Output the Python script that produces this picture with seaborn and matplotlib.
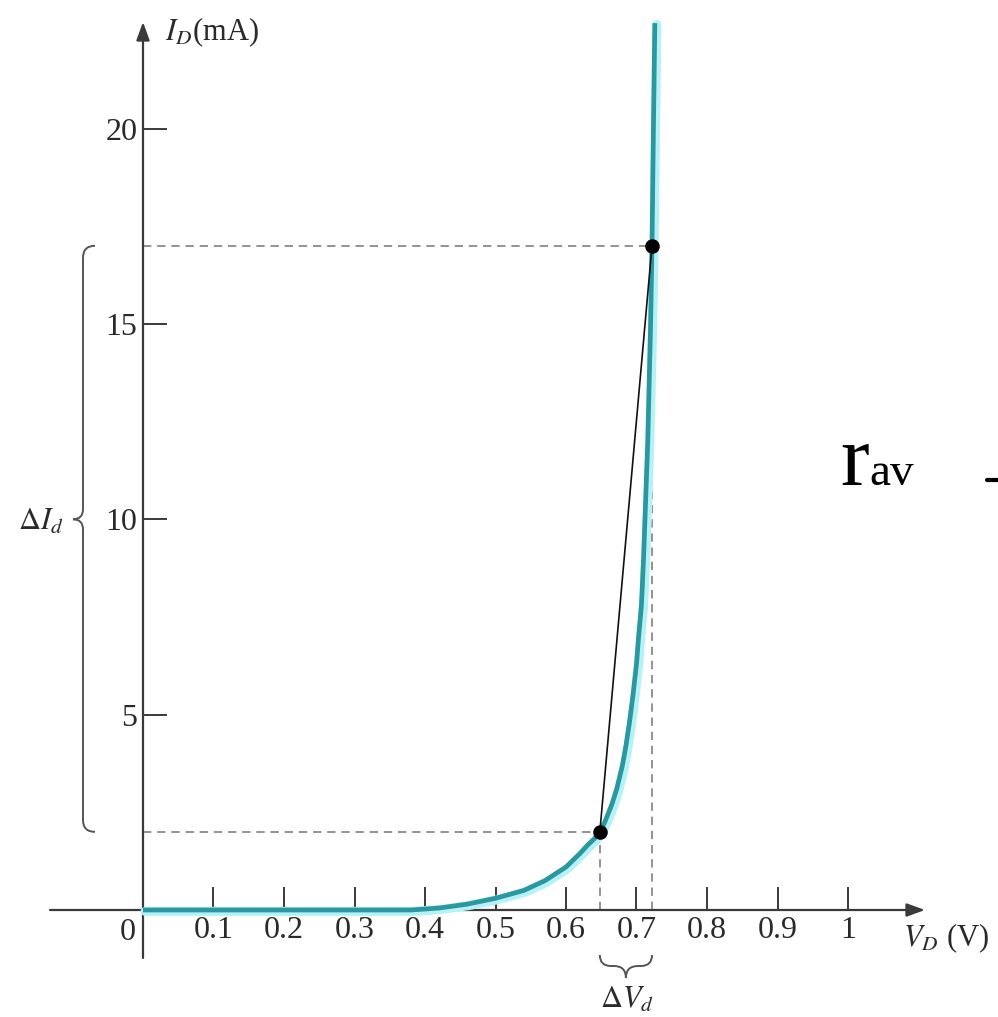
import numpy as np
import matplotlib
matplotlib.use("Agg")
import matplotlib.pyplot as plt
from matplotlib.path import Path
from matplotlib.patches import PathPatch
from matplotlib.lines import Line2D
import matplotlib.transforms as mtransforms
import seaborn as sns

# diode curve (V, mA)
vd = [0.0, 0.1, 0.2, 0.3, 0.38, 0.42, 0.46, 0.5, 0.54, 0.57, 0.6, 0.62, 0.63, 0.64,
      0.648, 0.655, 0.665, 0.672, 0.68, 0.685, 0.69, 0.695, 0.70, 0.703, 0.707,
      0.71, 0.713, 0.716, 0.718, 0.72, 0.722, 0.724, 0.726]
id_ma = [0.0, 0.0, 0.0, 0.0, 0.0, 0.05, 0.15, 0.3, 0.5, 0.75, 1.1, 1.45, 1.65, 1.82,
         2.0, 2.25, 2.7, 3.1, 3.7, 4.2, 4.8, 5.5, 6.3, 7.0, 7.8,
         9.0, 10.5, 12.0, 13.5, 15.0, 17.0, 20.0, 22.7]
# the two operating points
q_v = [0.648, 0.722]
q_i = [2.0, 17.0]
xticks = [0.1, 0.2, 0.3, 0.4, 0.5, 0.6, 0.7, 0.8, 0.9, 1.0]
xticklabels = ["0.1", "0.2", "0.3", "0.4", "0.5", "0.6", "0.7", "0.8", "0.9", "1"]
yticks = [5, 10, 15, 20]
yticklabels = ["5", "10", "15", "20"]

sns.set_theme(style="white")
plt.rcParams["font.family"] = ["Liberation Serif", "DejaVu Serif"]
plt.rcParams["mathtext.fontset"] = "stix"

W, H = 998, 1017
# pixel layout of the reference: origin and scale
X0, XS = 143, 705.0
Y0, YS = 910, 39.07


def px(x, y):
    return (x - X0) / XS, (Y0 - y) / YS


sx = 1 / XS
sy = 1 / YS

axis_col = "#3a3a3a"
txt_col = "#2a2a2a"
core = "#2b97a0"
halo = "#b4f2f6"
dash_col = "#808080"
fs = 23

fig = plt.figure(figsize=(W / 100, H / 100), dpi=100)
ax = fig.add_axes([0, 0, 1, 1])
ax.set_facecolor("none")
x_lo, y_lo = px(0, H)
x_hi, y_hi = px(W, 0)
ax.set_xlim(x_lo, x_hi)
ax.set_ylim(y_lo, y_hi)
for s in ax.spines.values():
    s.set_visible(False)
ax.spines["bottom"].set_position(("data", 0))
ax.spines["left"].set_position(("data", 0))

# axis lines with arrows
arw = dict(arrowstyle="-|>,head_length=0.55,head_width=0.2", mutation_scale=20,
           lw=1.6, color=axis_col, shrinkA=0, shrinkB=0)
ax.annotate("", xy=(px(925, 0)[0], 0), xytext=(px(50, 0)[0], 0), arrowprops=arw)
ax.annotate("", xy=(0, px(0, 22)[1]), xytext=(0, px(0, 958)[1]), arrowprops=arw)

ax.set_xticks(xticks)
ax.set_xticklabels(xticklabels)
ax.set_yticks(yticks)
ax.set_yticklabels(yticklabels)
ax.tick_params(axis="x", direction="in", length=16.5, width=1.4, pad=4,
               labelsize=fs, colors=axis_col, labelcolor=txt_col, bottom=True)
ax.tick_params(axis="y", direction="in", length=17, width=1.4, pad=4,
               labelsize=fs, colors=axis_col, labelcolor=txt_col, left=True)
ax.grid(False)

# dashed guides
dkw = dict(color=dash_col, lw=1.2, ls=(0, (5, 3.5)), zorder=2)
for v, i in zip(q_v, q_i):
    ax.plot([0, v], [i, i], **dkw)
    ax.plot([v, v], [0, i], **dkw)

# curve with a light cyan halo slightly offset
off = mtransforms.offset_copy(ax.transData, fig=fig, x=1.5, y=-1.0, units="points")
sns.lineplot(x=vd, y=id_ma, ax=ax, color=halo, lw=6.5, sort=False,
             transform=off, zorder=3, solid_joinstyle="round")
sns.lineplot(x=vd, y=id_ma, ax=ax, color=core, lw=3.4, sort=False, zorder=4,
             solid_capstyle="butt", solid_joinstyle="round")

# chord between the two points
sns.lineplot(x=q_v, y=q_i, ax=ax, color="#111111", lw=1.2, sort=False, zorder=5)
sns.scatterplot(x=q_v, y=q_i, ax=ax, color="black", s=110, edgecolor="black",
                linewidth=0, zorder=6)

# brace for delta I
bx = px(83, 0)[0]
c, d = 12, 10
ym = 10.0
verts = [(bx + c * sx, q_i[1]), (bx, q_i[1]), (bx, q_i[1] - c * sy),
         (bx, ym + d * sy), (bx, ym), (bx - d * sx, ym),
         (bx, ym), (bx, ym - d * sy),
         (bx, q_i[0] + c * sy), (bx, q_i[0]), (bx + c * sx, q_i[0])]
codes = [Path.MOVETO, Path.CURVE3, Path.CURVE3, Path.LINETO, Path.CURVE3, Path.CURVE3,
         Path.CURVE3, Path.CURVE3, Path.LINETO, Path.CURVE3, Path.CURVE3]
ax.add_patch(PathPatch(Path(verts, codes), fc="none", ec="#555555", lw=1.4))

# brace for delta V
by = px(0, 966)[1]
xm = (q_v[0] + q_v[1]) / 2
c, d = 11, 12
verts = [(q_v[0], by + c * sy), (q_v[0], by), (q_v[0] + c * sx, by),
         (xm - d * sx, by), (xm, by), (xm, by - d * sy),
         (xm, by), (xm + d * sx, by),
         (q_v[1] - c * sx, by), (q_v[1], by), (q_v[1], by + c * sy)]
ax.add_patch(PathPatch(Path(verts, codes), fc="none", ec="#555555", lw=1.4))

# labels
ax.text(*px(136, 932), "0", ha="right", va="center", fontsize=fs, color=txt_col)
ax.text(*px(165, 32), r"$I_D$(mA)", ha="left", va="center", fontsize=fs - 1, color=txt_col)
ax.text(*px(903, 938), r"$V_D$ (V)", ha="left", va="center", fontsize=fs - 1, color=txt_col)
ax.text(*px(63, 522), r"$\Delta I_d$", ha="right", va="center", fontsize=fs - 1, color=txt_col)
ax.text(*px(627, 1000), r"$\Delta V_d$", ha="center", va="center", fontsize=fs - 1, color=txt_col)

fig.text(840 / W, 1 - 485 / H, "r", fontsize=62, va="baseline", ha="left", color="black")
fig.text(869 / W, 1 - 485 / H, "av", fontsize=34, va="baseline", ha="left", color="black")
fig.add_artist(Line2D([987 / W, 1.0], [1 - 480 / H] * 2, lw=3, color="black"))

fig.savefig("out.png", dpi=100)
plt.close("all")
